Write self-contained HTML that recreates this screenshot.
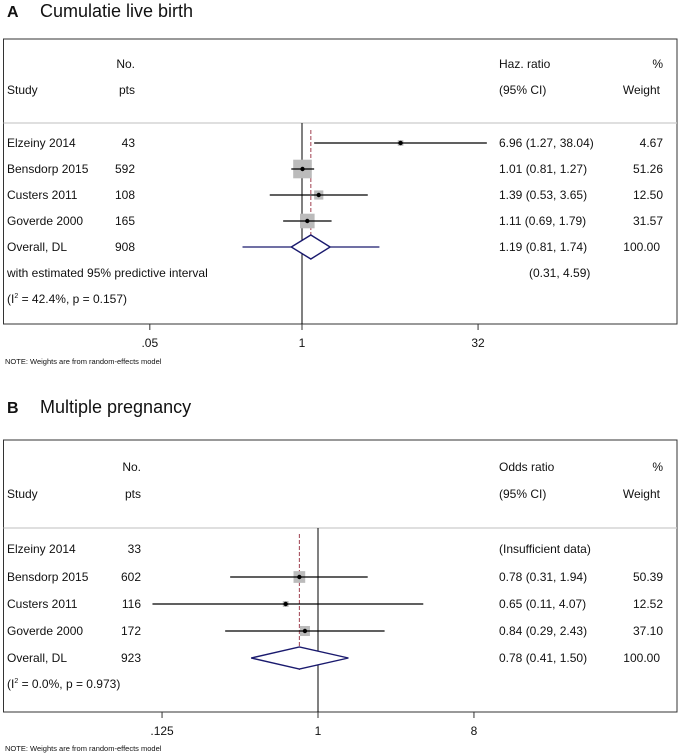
<!DOCTYPE html>
<html><head><meta charset="utf-8"><style>
html,body{margin:0;padding:0;background:#fff;}
svg{display:block;font-family:"Liberation Sans",Arial,sans-serif;}
</style></head><body>
<svg id="chart" width="680" height="756" viewBox="0 0 680 756"></svg>
<script>
// Panel A data
const studiesA = ["Elzeiny 2014","Bensdorp 2015","Custers 2011","Goverde 2000"];
const ptsA = [43,592,108,165];
const estA = [6.96,1.01,1.39,1.11];
const lowA = [1.27,0.81,0.53,0.69];
const highA = [38.04,1.27,3.65,1.79];
const weightA = [4.67,51.26,12.50,31.57];
const overallA = [1.19,0.81,1.74];
const predA = [0.31,4.59];
const ticksA = [0.05,1,32];
const tickLabelsA = [".05","1","32"];
// Panel B data
const studiesB = ["Elzeiny 2014","Bensdorp 2015","Custers 2011","Goverde 2000"];
const ptsB = [33,602,116,172];
const estB = [null,0.78,0.65,0.84];
const lowB = [null,0.31,0.11,0.29];
const highB = [null,1.94,4.07,2.43];
const weightB = [null,50.39,12.52,37.10];
const overallB = [0.78,0.41,1.50];
const ticksB = [0.125,1,8];
const tickLabelsB = [".125","1","8"];

const NS="http://www.w3.org/2000/svg";
const svg=document.getElementById('chart');
function el(tag,attrs,parent){const e=document.createElementNS(NS,tag);for(const k in attrs)e.setAttribute(k,attrs[k]);(parent||svg).appendChild(e);return e;}
function txt(x,y,s,opt,parent){const t=el('text',Object.assign({x:x,y:y,'font-size':12,fill:'#111'},opt||{}),parent);t.textContent=s;return t;}
const f2=v=>v.toFixed(2);

function panel(cfg){
  const g=el('g',{});
  
  
  const xs=v=>cfg.x1+Math.log(v)*cfg.k;
  const lt=txt(7,cfg.titleY,cfg.letter,{'font-size':16,'font-weight':'bold'},g);
  
  const tt=txt(40,cfg.titleY,cfg.title,{'font-size':18},g);
  
  const box=el('rect',{x:3.5,y:cfg.top,width:673.5,height:cfg.bottom-cfg.top,fill:'none',stroke:'#333','stroke-width':1},g);
  
  el('line',{x1:3.5,x2:677,y1:cfg.sep,y2:cfg.sep,stroke:'#ccc','stroke-width':1.2},g);
  txt(cfg.noX,cfg.h1,'No.',{'text-anchor':'end'},g);
  txt(7,cfg.h2,'Study',{},g);
  txt(cfg.noX,cfg.h2,'pts',{'text-anchor':'end'},g);
  txt(499,cfg.h1,cfg.measure,{},g);
  txt(499,cfg.h2,'(95% CI)',{},g);
  txt(663,cfg.h1,'%',{'text-anchor':'end'},g);
  txt(660,cfg.h2,'Weight',{'text-anchor':'end'},g);
  const nl=el('line',{x1:xs(1),x2:xs(1),y1:cfg.sep,y2:cfg.bottom,stroke:'#000','stroke-width':1},g);
  
  const dl=el('line',{x1:xs(cfg.ov[0]),x2:xs(cfg.ov[0]),y1:cfg.dashTop,y2:cfg.dashBot,stroke:'#a04050','stroke-width':1,'stroke-dasharray':'4,2'},g);
  
  cfg.studies.forEach((s,i)=>{
    const y=cfg.rows[i];
    txt(7,y+4,s,{},g);
    txt(cfg.noX,y+4,String(cfg.pts[i]),{'text-anchor':'end'},g);
    if(cfg.est[i]==null){txt(499,y+4,'(Insufficient data)',{},g);return;}
    const side=cfg.bk*Math.sqrt(cfg.w[i]);
    const sq=el('rect',{x:xs(cfg.est[i])-side/2,y:y-side/2,width:side,height:side,fill:'#bbb'},g);
    
    const ci=el('line',{x1:xs(cfg.lo[i]),x2:xs(cfg.hi[i]),y1:y,y2:y,stroke:'#000','stroke-width':1.3},g);
    
    const pt=el('circle',{cx:xs(cfg.est[i]),cy:y,r:2.2,fill:'#000'},g);
    
    txt(499,y+4,f2(cfg.est[i])+' ('+f2(cfg.lo[i])+', '+f2(cfg.hi[i])+')',{},g);
    txt(663,y+4,f2(cfg.w[i]),{'text-anchor':'end'},g);
  });
  const oy=cfg.ovY;
  if(cfg.pred){
    const pl=el('line',{x1:xs(cfg.pred[0]),x2:xs(cfg.pred[1]),y1:oy,y2:oy,stroke:'#1a1a6e','stroke-width':1.3},g);
    
  }
  const d=el('polygon',{points:[xs(cfg.ov[1])+','+oy,xs(cfg.ov[0])+','+(oy-cfg.dh),xs(cfg.ov[2])+','+oy,xs(cfg.ov[0])+','+(oy+cfg.dh)].join(' '),fill:'#fff',stroke:'#1a1a6e','stroke-width':1.4},g);
  
  txt(7,oy+4,'Overall, DL',{},g);
  txt(cfg.noX,oy+4,String(cfg.ptsTotal),{'text-anchor':'end'},g);
  txt(499,oy+4,f2(cfg.ov[0])+' ('+f2(cfg.ov[1])+', '+f2(cfg.ov[2])+')',{},g);
  txt(660,oy+4,'100.00',{'text-anchor':'end'},g);
  let ny=oy+26;
  if(cfg.pred){
    txt(7,ny+4,'with estimated 95% predictive interval',{},g);
    txt(529,ny+4,'('+f2(cfg.pred[0])+', '+f2(cfg.pred[1])+')',{},g);
    ny+=26;
  }
  const het=txt(7,ny+4,'(I',{},g);
  const sup=el('tspan',{dy:-5,'font-size':7},het);sup.textContent='2';
  const rest=el('tspan',{dy:5},het);rest.textContent=' = '+cfg.het+')';
  cfg.ticks.forEach((t,i)=>{
    el('line',{x1:xs(t),x2:xs(t),y1:cfg.bottom,y2:cfg.bottom+6,stroke:'#333'},g);
    const tl=txt(xs(t),cfg.bottom+23,cfg.tickLabels[i],{'text-anchor':'middle'},g);
    
  });
  const n=txt(5,cfg.noteY,'NOTE: Weights are from random-effects model',{'font-size':7.5},g);
  
}

panel({name:'panel-a-live-birth',letter:'A',title:'Cumulatie live birth',titleY:17,top:39,bottom:324,sep:123,h1:68,h2:94,
  noX:135,measure:'Haz. ratio',x1:302,k:50.8,studies:studiesA,pts:ptsA,est:estA,lo:lowA,hi:highA,w:weightA,
  rows:[143,169,195,221],ovY:247,ov:overallA,pred:predA,ptsTotal:908,dh:12,bk:2.6,dashTop:130,dashBot:259,
  het:'42.4%, p = 0.157',ticks:ticksA,tickLabels:tickLabelsA,noteY:364});
panel({name:'panel-b-multiple-pregnancy',letter:'B',title:'Multiple pregnancy',titleY:413,top:440,bottom:712,sep:528,h1:471,h2:498,
  noX:141,measure:'Odds ratio',x1:318,k:75,studies:studiesB,pts:ptsB,est:estB,lo:lowB,hi:highB,w:weightB,
  rows:[549,577,604,631],ovY:658,ov:overallB,pred:null,ptsTotal:923,dh:11,bk:1.65,dashTop:534,dashBot:670,
  het:'0.0%, p = 0.973',ticks:ticksB,tickLabels:tickLabelsB,noteY:751});
</script>
</body></html>
